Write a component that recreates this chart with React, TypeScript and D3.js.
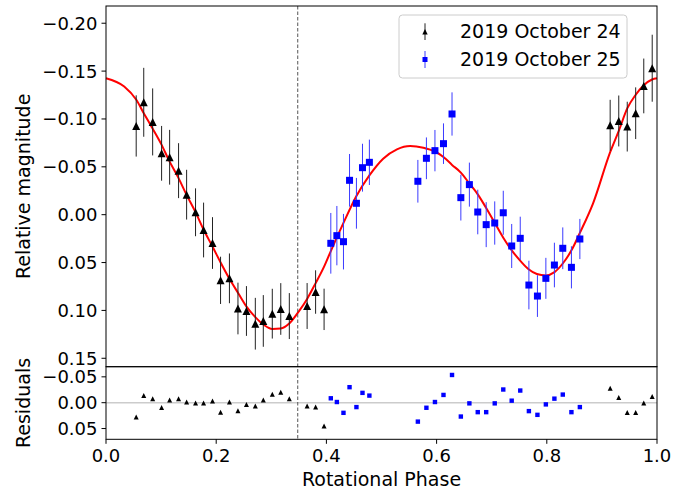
import React from 'react';
import * as d3 from 'd3';

// 2019 October 24 (black triangles)
const oct24Phase = [0.0548, 0.0685, 0.0847, 0.1009, 0.1155, 0.1317, 0.1463, 0.1625, 0.1771, 0.1933, 0.2079, 0.224, 0.2395, 0.2549, 0.271, 0.2855, 0.3018, 0.3172, 0.3327, 0.365, 0.3804, 0.3958, 0.915, 0.9306, 0.946, 0.9613, 0.976, 0.9913];
const oct24Mag = [-0.0927, -0.1174, -0.0969, -0.0641, -0.06, -0.046, -0.0209, -0.0025, 0.016, 0.0296, 0.0686, 0.0665, 0.098, 0.1006, 0.1139, 0.111, 0.1034, 0.0985, 0.1059, 0.0954, 0.0808, 0.0989, -0.0934, -0.0979, -0.092, -0.106, -0.1345, -0.153];
const oct24Err = [0.032, 0.036, 0.035, 0.0286, 0.0286, 0.0287, 0.026, 0.025, 0.0286, 0.027, 0.0247, 0.026, 0.027, 0.026, 0.027, 0.027, 0.026, 0.027, 0.024, 0.024, 0.0227, 0.0216, 0.0266, 0.0266, 0.026, 0.027, 0.0286, 0.035];
const oct24Res = [0.0275, -0.0137, -0.0078, 0.0092, -0.0052, -0.0078, -0.0013, 0.0007, 0.0007, -0.0033, 0.0183, -0.0013, 0.0157, 0.0033, 0.0065, -0.0052, -0.0163, -0.0203, -0.0078, 0.0065, 0.0085, 0.0451, -0.0281, -0.0098, 0.019, 0.019, 0.0007, -0.0118];

// 2019 October 25 (blue squares)
const oct25Phase = [0.408, 0.419, 0.431, 0.442, 0.4545, 0.4655, 0.478, 0.566, 0.5815, 0.597, 0.6125, 0.628, 0.644, 0.6595, 0.6747, 0.69, 0.7055, 0.721, 0.7363, 0.7518, 0.7675, 0.783, 0.7983, 0.8138, 0.829, 0.8447, 0.86];
const oct25Mag = [0.0299, 0.0219, 0.0282, -0.0359, -0.0119, -0.0491, -0.0547, -0.0349, -0.0589, -0.0669, -0.0742, -0.1052, -0.0178, -0.0314, -0.0028, 0.0104, 0.0087, -0.002, 0.0327, 0.0247, 0.0735, 0.085, 0.0665, 0.0526, 0.0351, 0.055, 0.0254];
const oct25Err = [0.0317, 0.031, 0.029, 0.0275, 0.0265, 0.025, 0.0237, 0.0223, 0.0218, 0.0216, 0.0212, 0.0226, 0.0239, 0.023, 0.0233, 0.0235, 0.0226, 0.023, 0.023, 0.0226, 0.0254, 0.0218, 0.0214, 0.0233, 0.0218, 0.022, 0.021];
const oct25Res = [-0.0085, -0.0013, 0.0196, -0.03, 0.0085, -0.019, -0.0137, 0.0366, 0.0098, -0.0013, -0.015, -0.0536, 0.0268, 0.0013, 0.0183, 0.0183, 0.0013, -0.0255, -0.0039, -0.0235, 0.0163, 0.0235, 0.0033, -0.0078, -0.0157, 0.0183, 0.0085];

// fitted lightcurve
const fitPhase = [0, 0.033, 0.055, 0.069, 0.084, 0.1, 0.115, 0.131, 0.146, 0.162, 0.177, 0.193, 0.208, 0.224, 0.24, 0.255, 0.271, 0.286, 0.302, 0.317, 0.333, 0.35, 0.365, 0.38, 0.396, 0.408, 0.431, 0.454, 0.478, 0.503, 0.528, 0.552, 0.576, 0.597, 0.613, 0.628, 0.644, 0.659, 0.675, 0.69, 0.705, 0.721, 0.736, 0.752, 0.767, 0.782, 0.798, 0.814, 0.829, 0.845, 0.86, 0.884, 0.915, 0.931, 0.946, 0.961, 0.976, 0.991, 1];
const fitMag = [-0.1425, -0.1338, -0.12, -0.1055, -0.0905, -0.074, -0.056, -0.039, -0.021, -0.0032, 0.0155, 0.033, 0.05, 0.067, 0.082, 0.096, 0.107, 0.115, 0.1195, 0.119, 0.1135, 0.101, 0.088, 0.072, 0.054, 0.038, 0.0086, -0.019, -0.041, -0.0585, -0.0683, -0.0718, -0.07, -0.066, -0.06, -0.052, -0.044, -0.033, -0.021, -0.007, 0.008, 0.024, 0.037, 0.0482, 0.057, 0.062, 0.0635, 0.06, 0.051, 0.037, 0.019, -0.0119, -0.0653, -0.0881, -0.111, -0.125, -0.1352, -0.1412, -0.1425];

const markPhase = 0.348;
const magTicks = [-0.2, -0.15, -0.1, -0.05, 0, 0.05, 0.1, 0.15];
const resTicks = [-0.05, 0, 0.05];
const phaseTicks = [0, 0.2, 0.4, 0.6, 0.8, 1.0];
const legendLabels = ['2019 October 24', '2019 October 25'];

const W = 699;
const H = 491;
const FONT = 'DejaVu Sans, sans-serif';

const fmt2 = (v: number) => d3.format('.2f')(v).replace('-', '\u2212');
const fmt1 = (v: number) => d3.format('.1f')(v);

const tri = (cx: number, cy: number, s: number) =>
  `M${cx},${cy - s}L${cx - s},${cy + s}L${cx + s},${cy + s}Z`;

export default function App() {
  const x = d3.scaleLinear([0, 1], [106, 657]);
  const yTop = d3.scaleLinear([-0.218, 0.1588], [6, 366.7]);
  const yRes = d3.scaleLinear([-0.0696, 0.0708], [366.7, 439.3]);

  const fitLine = d3.line<number>()
    .x((_, i) => x(fitPhase[i]))
    .y(d => yTop(d))
    .curve(d3.curveMonotoneX);

  const [x0, x1] = x.range();
  const [t0, t1] = yTop.range();
  const [r0, r1] = yRes.range();

  return (
    <svg width={W} height={H} style={{ position: 'absolute', left: 0, top: 0, background: '#fff' }} fontFamily={FONT}>
      {/* residual zero line */}
      <line x1={x0} x2={x1} y1={yRes(0)} y2={yRes(0)} stroke="#cccccc" strokeWidth={1.5} />

      {/* fit */}
      <path d={fitLine(fitMag) || ''} fill="none" stroke="red" strokeWidth={2} />

      {/* error bars */}
      {oct24Phase.map((p, i) => (
        <line key={'e24' + i} x1={x(p)} x2={x(p)} y1={yTop(oct24Mag[i] - oct24Err[i])} y2={yTop(oct24Mag[i] + oct24Err[i])}
          stroke="#222" strokeWidth={1} />
      ))}
      {oct25Phase.map((p, i) => (
        <line key={'e25' + i} x1={x(p)} x2={x(p)} y1={yTop(oct25Mag[i] - oct25Err[i])} y2={yTop(oct25Mag[i] + oct25Err[i])}
          stroke="#3b3bff" strokeWidth={1} />
      ))}

      {/* markers */}
      {oct24Phase.map((p, i) => (
        <path key={'m24' + i} d={tri(x(p), yTop(oct24Mag[i]), 4)} fill="black" />
      ))}
      {oct25Phase.map((p, i) => (
        <rect key={'m25' + i} x={x(p) - 3.5} y={yTop(oct25Mag[i]) - 3.5} width={7} height={7} fill="blue" />
      ))}

      {/* residuals */}
      {oct24Phase.map((p, i) => (
        <path key={'r24' + i} d={tri(x(p), yRes(oct24Res[i]), 2.5)} fill="black" />
      ))}
      {oct25Phase.map((p, i) => (
        <rect key={'r25' + i} x={x(p) - 2.2} y={yRes(oct25Res[i]) - 2.2} width={4.4} height={4.4} fill="blue" />
      ))}

      {/* dashed phase marker */}
      <line x1={x(markPhase)} x2={x(markPhase)} y1={t0} y2={r1} stroke="#555" strokeWidth={1} strokeDasharray="3.5,2" />

      {/* frames */}
      <rect x={x0} y={t0} width={x1 - x0} height={t1 - t0} fill="none" stroke="#000" strokeWidth={1} />
      <rect x={x0} y={r0} width={x1 - x0} height={r1 - r0} fill="none" stroke="#000" strokeWidth={1} />

      {/* y ticks top */}
      {magTicks.map(t => (
        <g key={'mt' + t}>
          <line x1={x0 - 4.5} x2={x0} y1={yTop(t)} y2={yTop(t)} stroke="#000" />
          <text x={x0 - 8.5} y={yTop(t)} dy="0.36em" textAnchor="end" fontSize={18}>{fmt2(t)}</text>
        </g>
      ))}
      {/* y ticks residuals */}
      {resTicks.map(t => (
        <g key={'rt' + t}>
          <line x1={x0 - 4.5} x2={x0} y1={yRes(t)} y2={yRes(t)} stroke="#000" />
          <text x={x0 - 8.5} y={yRes(t)} dy="0.36em" textAnchor="end" fontSize={18}>{fmt2(t)}</text>
        </g>
      ))}
      {/* x ticks */}
      {phaseTicks.map(t => (
        <g key={'xt' + t}>
          <line x1={x(t)} x2={x(t)} y1={r1} y2={r1 + 4.5} stroke="#000" />
          <text x={x(t)} y={462} textAnchor="middle" fontSize={18}>{fmt1(t)}</text>
        </g>
      ))}

      {/* axis labels */}
      <text transform={`translate(29.5,${(t0 + t1) / 2}) rotate(-90)`} textAnchor="middle" fontSize={19}>Relative magnitude</text>
      <text transform={`translate(29.5,${(r0 + r1) / 2}) rotate(-90)`} textAnchor="middle" fontSize={19}>Residuals</text>
      <text x={(x0 + x1) / 2} y={486} textAnchor="middle" fontSize={19}>Rotational Phase</text>

      {/* legend */}
      <g>
        <rect x={399} y={15} width={228} height={63} rx={3.5} fill="white" fillOpacity={0.8} stroke="#cccccc" strokeWidth={1} />
        <line x1={425} x2={425} y1={23.3} y2={40} stroke="#222" strokeWidth={1} />
        <path d={tri(425, 31.7, 2.7)} fill="black" />
        <line x1={425} x2={425} y1={51} y2={68} stroke="#3b3bff" strokeWidth={1} />
        <rect x={422.5} y={57} width={5} height={5} fill="blue" />
        <text x={460} y={37.5} fontSize={19}>{legendLabels[0]}</text>
        <text x={460} y={66} fontSize={19}>{legendLabels[1]}</text>
      </g>
    </svg>
  );
}
